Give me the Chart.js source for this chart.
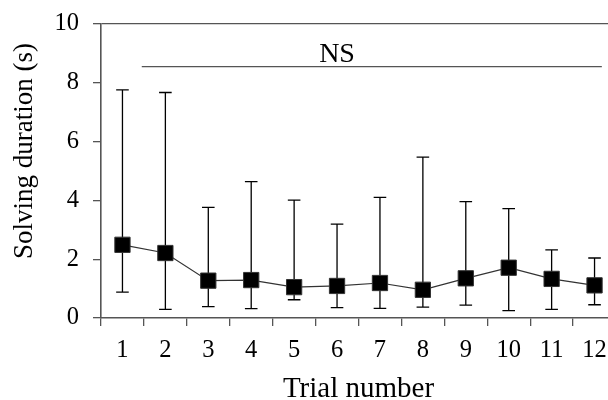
<!DOCTYPE html>
<html>
<head>
<meta charset="utf-8">
<script src="https://cdn.jsdelivr.net/npm/chart.js@4/dist/chart.umd.min.js"></script>
<style>
    html, body { margin: 0; padding: 0; background: #fff; overflow: hidden; }
    #chart { display: block; }
</style>
</head>
<body>
<canvas id="chart" width="616" height="400"></canvas>
<script>
const trials = ['1', '2', '3', '4', '5', '6', '7', '8', '9', '10', '11', '12'];
const meanTime = [2.49, 2.21, 1.27, 1.29, 1.05, 1.09, 1.19, 0.96, 1.35, 1.71, 1.33, 1.11];
const upperErr = [7.76, 7.67, 3.76, 4.64, 4.01, 3.19, 4.10, 5.47, 3.96, 3.72, 2.32, 2.04];
const lowerErr = [0.88, 0.29, 0.39, 0.32, 0.62, 0.35, 0.33, 0.37, 0.44, 0.25, 0.29, 0.45];
const yTicks = [0, 2, 4, 6, 8, 10];

// "NS" bracket: level in s, span in trial-index units
const nsLevel = 8.55;
const nsSpan = [0.45, 11.17];
const nsLabelAt = 5;

const SERIF = "'Liberation Serif', 'DejaVu Serif', serif";
const AXIS = '#555';

// error bars under the markers
const errorBars = {
    id: 'errorBars',
    beforeDatasetsDraw(chart) {
        const { ctx, scales: { x, y } } = chart;
        ctx.save();
        ctx.strokeStyle = '#000';
        ctx.lineWidth = 1.3;
        trials.forEach((t, i) => {
            const px = x.getPixelForValue(i);
            const top = y.getPixelForValue(upperErr[i]);
            const bot = y.getPixelForValue(lowerErr[i]);
            ctx.beginPath();
            ctx.moveTo(px, top); ctx.lineTo(px, bot);
            ctx.moveTo(px - 6.3, top); ctx.lineTo(px + 6.3, top);
            ctx.moveTo(px - 6.3, bot); ctx.lineTo(px + 6.3, bot);
            ctx.stroke();
        });
        ctx.restore();
    }
};

// NS bracket + rotated y title
const extras = {
    id: 'extras',
    afterDraw(chart) {
        const { ctx, chartArea, scales: { x, y } } = chart;
        ctx.save();
        const ly = y.getPixelForValue(nsLevel);
        ctx.strokeStyle = AXIS;
        ctx.lineWidth = 1.3;
        ctx.beginPath();
        ctx.moveTo(x.getPixelForValue(nsSpan[0]), ly);
        ctx.lineTo(x.getPixelForValue(nsSpan[1]), ly);
        ctx.stroke();

        ctx.fillStyle = '#000';
        ctx.font = '28px ' + SERIF;
        ctx.textAlign = 'center';
        ctx.textBaseline = 'alphabetic';
        ctx.fillText('NS', x.getPixelForValue(nsLabelAt), ly - 4.5);

        ctx.font = '27px ' + SERIF;
        ctx.translate(32, (chartArea.top + chartArea.bottom) / 2 - 20);
        ctx.rotate(-Math.PI / 2);
        ctx.fillText('Solving duration (s)', 0, 0);
        ctx.restore();
    }
};

new Chart(document.getElementById('chart'), {
    type: 'line',
    data: {
        labels: trials,
        datasets: [{
            data: meanTime,
            borderColor: '#333',
            borderWidth: 1.2,
            pointStyle: 'rect',
            pointRadius: 10.8,
            pointBackgroundColor: '#000',
            pointBorderColor: '#333',
            pointBorderWidth: 1,
            tension: 0
        }]
    },
    options: {
        responsive: false,
        animation: false,
        devicePixelRatio: 1,
        layout: { autoPadding: false, padding: { top: 24, left: 0, right: 0, bottom: 0 } },
        plugins: { legend: { display: false }, tooltip: { enabled: false } },
        scales: {
            x: {
                type: 'category',
                offset: true,
                grid: { offset: true, drawOnChartArea: false, tickLength: 8, color: AXIS, lineWidth: 1.3 },
                border: { color: AXIS, width: 1.6 },
                ticks: { font: { family: SERIF, size: 24.5 }, color: '#000', padding: 10, maxRotation: 0, autoSkip: false },
                title: { display: true, text: 'Trial number', color: '#000', font: { family: SERIF, size: 29, lineHeight: 0.7 }, padding: 0 },
                afterFit: s => { s.height = 82; s.paddingLeft = 0; s.paddingRight = 0; }
            },
            y: {
                min: 0,
                max: 10,
                afterBuildTicks: s => { s.ticks = yTicks.map(v => ({ value: v })); },
                grid: {
                    color: c => c.tick && c.tick.value === 10 ? AXIS : 'transparent',
                    tickColor: AXIS,
                    tickLength: 8,
                    lineWidth: 1.3
                },
                border: { color: AXIS, width: 1.6 },
                ticks: { font: { family: SERIF, size: 24.5 }, color: '#000', padding: 14 },
                afterFit: s => { s.width = 101; s.paddingTop = 0; s.paddingBottom = 0; }
            }
        }
    },
    plugins: [errorBars, extras]
});
</script>
</body>
</html>
